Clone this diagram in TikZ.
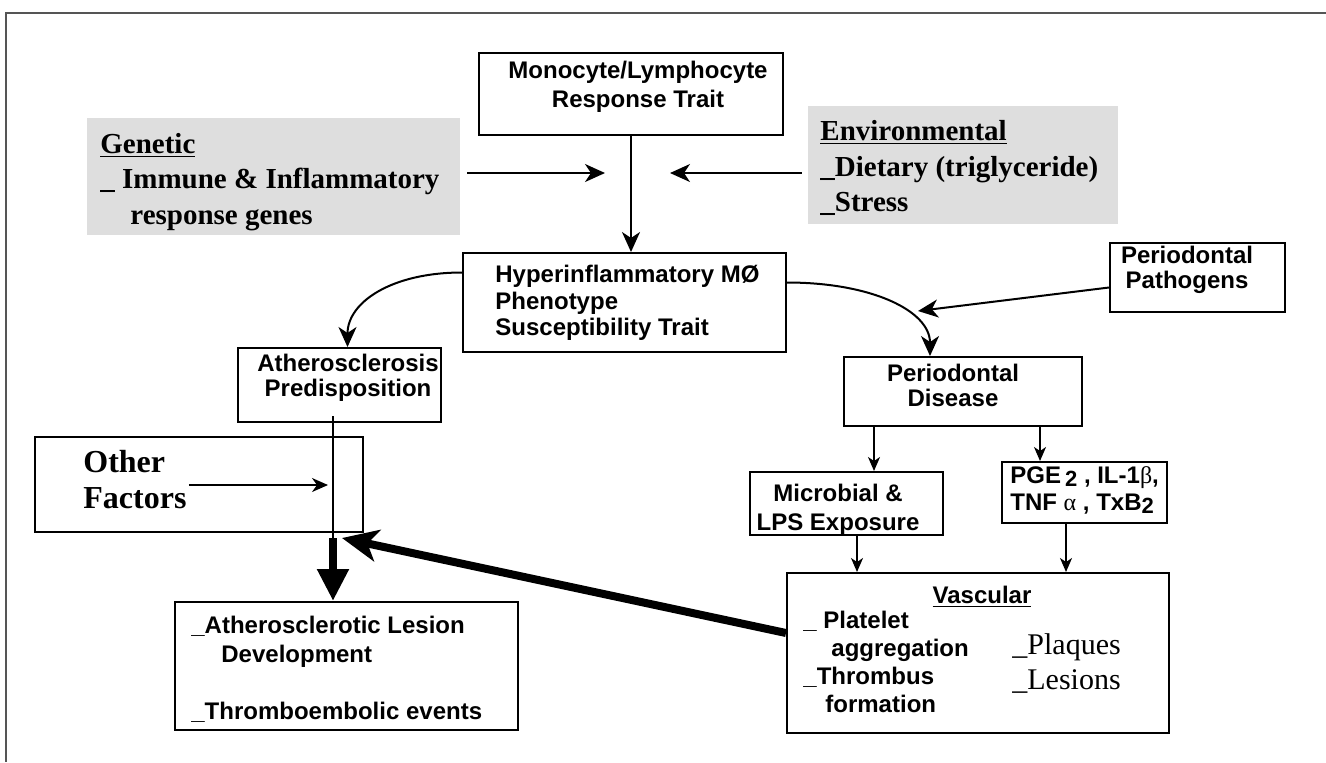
\documentclass[tikz,border=0pt]{standalone}
\usepackage{fontspec}
\setmainfont{Liberation Serif}
\setsansfont{Liberation Sans}
\usepackage{tikz}
\usetikzlibrary{arrows.meta,fit}
\definecolor{shade}{HTML}{DEDEDE}
\definecolor{framegrey}{HTML}{555555}
\newcommand{\lowtwo}{\raisebox{-1.5pt}{\fontsize{11}{11}\selectfont 2}}
\newcommand{\grk}[1]{{\rmfamily\mdseries #1}}

\begin{document}
\begin{tikzpicture}[
    x=0.5pt, y=-0.5pt,
    >={Stealth[length=10pt, width=9pt, inset=3pt]},
    box/.style={draw, line width=1pt, inner sep=0pt},
    shadebox/.style={fill=shade, inner sep=0pt},
    sans/.style={font=\sffamily\bfseries\fontsize{12}{#1}\selectfont, inner sep=0pt},
    sans/.default=14.5,
    serif/.style={font=\rmfamily\bfseries\fontsize{14.5}{17.75}\selectfont, inner sep=0pt, align=left},
    link/.style={->, line width=1pt},
    minor/.style={->, line width=0.7pt, >={Stealth[length=7pt, width=6pt, inset=2pt]}},
    heavylink/.style={->, line width=4pt, >={Stealth[length=18pt, width=16pt, inset=5pt]}},
    downheavy/.style={->, line width=4pt, >={Triangle[length=16pt, width=15pt]}}
  ]
    \useasboundingbox (0,0) rectangle (1326,762);
    \draw[framegrey, line width=0.8pt] (1326,13) -- (6,13) -- (6,762);
    % Top row
    \node[shadebox, fit={(87,118) (460,235)}] (gen) {};
    \node[shadebox, fit={(808,106) (1118,224)}] (env) {};
    \node[box, fit={(479,53) (783,135)}] (mono) {};
    \node[sans, align=center] (monotxt) at (638,87) {Monocyte/Lymphocyte\\Response Trait};
    \node[serif, anchor=west] (gentxt) at (100,182) {\underline{Genetic}\\\_ Immune \& Inflammatory\\\hspace*{15pt}response genes};
    \node[serif, anchor=west] (envtxt) at (820,168) {\underline{Environmental}\\\_Dietary (triglyceride)\\\_Stress};
    % Middle row
    \node[box, fit={(463,253) (786,352)}] (hyper) {};
    \node[sans=13.25, align=left, anchor=west] (hyptxt) at (495,303) {Hyperinflammatory M\O\\Phenotype\\Susceptibility Trait};
    \node[box, fit={(1110,243) (1285,312)}] (path) {};
    \node[sans=12.5, align=center] (pathtxt) at (1187,270) {Periodontal\\Pathogens};
    \node[box, fit={(238,348) (441,422)}] (athero) {};
    \node[sans=12.5, align=center] (athtxt) at (348,378) {Atherosclerosis\\Predisposition};
    \node[box, fit={(844,357) (1082,426)}] (pd) {};
    \node[sans=12.5, align=center] (pdtxt) at (953,385) {Periodontal\\Disease};
    \node[box, fit={(35,437) (363,532)}] (other) {};
    \node[font=\rmfamily\bfseries\fontsize{16}{18}\selectfont, align=left, anchor=west, inner sep=0pt] (othtxt) at (83,480) {Other\\Factors};
    \node[box, fit={(750,472) (943,535)}] (mic) {};
    \node[sans, align=center] (mictxt) at (838,510) {Microbial \&\\LPS Exposure};
    \node[box, fit={(1002,462) (1167,523)}] (pge) {};
    \node[sans=13.5, align=left, anchor=west] (pgetxt) at (1010,490) {PGE\,\lowtwo\ , IL-1\grk{β},\\TNF \grk{α}\ , TxB\lowtwo};
    % Bottom row
    \node[box, fit={(175,602) (518,730)}] (lesion) {};
    \node[sans, align=left, anchor=west] (lestxt) at (191,669) {\_Atherosclerotic Lesion\\\hspace*{15pt}Development\\[14pt]\_Thromboembolic events};
    \node[box, fit={(787,573) (1169,733)}] (vasc) {};
    \node[sans] (vasctitle) at (982,597) {\underline{Vascular}};
    \node[sans=14, align=left, anchor=west] (vascleft) at (803,662) {\_ Platelet\\\hspace*{14pt}aggregation\\\_Thrombus\\\hspace*{11pt}formation};
    \node[font=\rmfamily\fontsize{15}{17.5}\selectfont, align=left, anchor=west, inner sep=0pt] (vascright) at (1012,664) {\_Plaques\\\_Lesions};
    % Arrows
    \coordinate (gtip) at (605,173);
    \coordinate (etip) at (670,173);
    \coordinate (ptip) at (918,311);
    \coordinate (otip) at (328,485);
    \coordinate (join) at (333,538);
    \coordinate (ttip) at (342,538);
    \draw[link] (gen.east |- gtip) ++(7,0) -- (gtip);
    \draw[link] (env.west |- etip) ++(-6,0) -- (etip);
    \draw[link] (mono.south) -- (mono.south |- hyper.north);
    \draw[link] ([yshift=15pt]hyper.west) .. controls +(-70,0) and +(0,-45) .. ([xshift=4pt]athero.north);
    \draw[link] ([yshift=10pt]hyper.east) .. controls +(85,0) and +(0,-45) .. ([xshift=-16.5pt]pd.north);
    \draw[link] ([yshift=-5pt]path.west) -- (ptip);
    \path ([xshift=-44.5pt]pd.south) coordinate (pdl) ([xshift=38.5pt]pd.south) coordinate (pdr);
    \draw[minor] (pdl) -- (pdl |- mic.north);
    \draw[minor] (pdr) -- (pdr |- pge.north);
    \path ([xshift=5.25pt]mic.south) coordinate (micb) ([xshift=-9.25pt]pge.south) coordinate (pgeb);
    \draw[minor] (micb) -- (micb |- vasc.north);
    \draw[minor] (pgeb) -- (pgeb |- vasc.north);
    \draw[link, line width=0.8pt, >={Stealth[length=8pt, width=7pt, inset=2.5pt]}] (othtxt.east |- otip) ++(2,0) -- (otip);
    \draw[line width=0.8pt] (join |- athero.south) ++(0,-7) -- (join);
    \draw[downheavy] (join) -- (join |- lesion.north);
    \draw[heavylink] ([yshift=10pt]vasc.west) -- (ttip);
  \end{tikzpicture}
\end{document}
